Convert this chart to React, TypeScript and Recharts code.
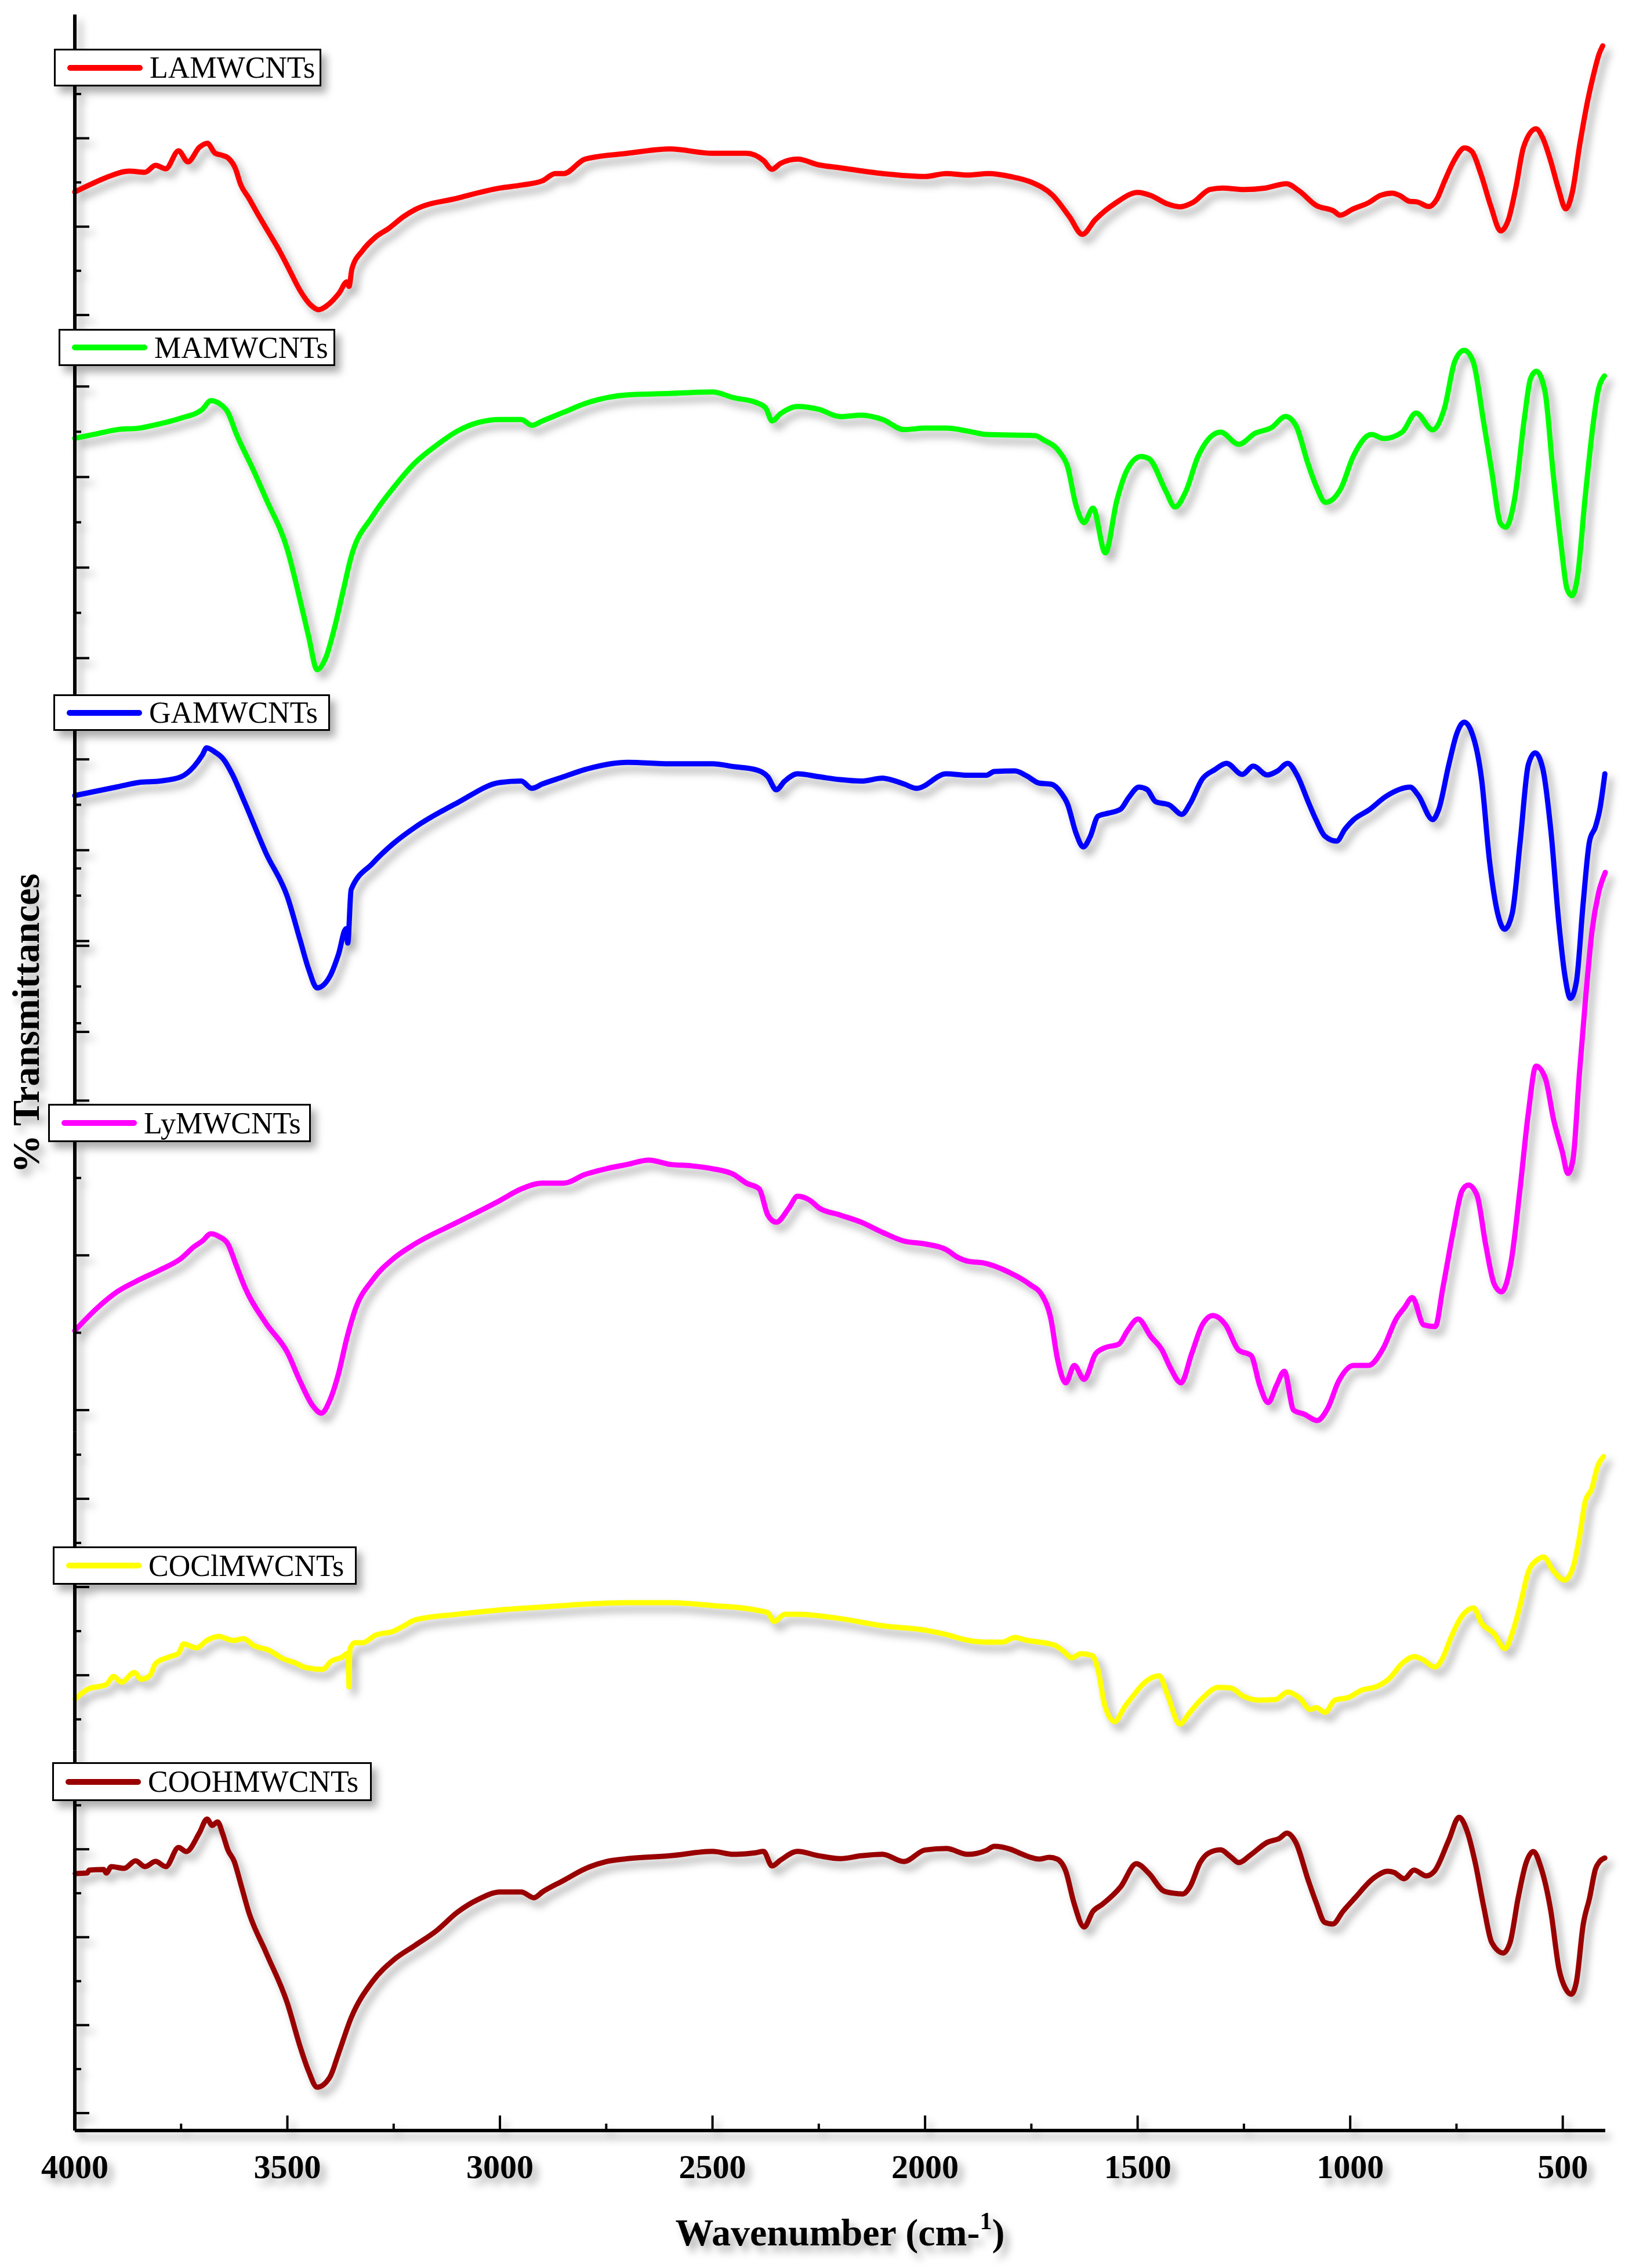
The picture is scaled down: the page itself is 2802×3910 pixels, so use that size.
import React from "react";
import { LineChart, Line, XAxis, YAxis } from "recharts";

const W = 2802;
const H = 3910;
const SY = 3910 / 1568; // px per transmittance unit
const PLOT_LEFT = 129;
const PLOT_RIGHT = 34;
const Y_AXIS_W = 1;
const X_AXIS_H = 120;
const FONT = '"Liberation Serif", "Times New Roman", serif';

const X_TICKS = [4000, 3750, 3500, 3250, 3000, 2750, 2500, 2250, 2000, 1750, 1500, 1250, 1000, 750, 500];

// [wavenumber, %T (arbitrary, offset per spectrum)]
const LA: [number, number][] = [
  [4000, 92.3], [3963, 97.5], [3926, 102.3], [3872, 106.7], [3835, 105.9], [3810, 110.7], [3786, 108.3],
  [3756, 120.7], [3734, 113.1], [3707, 123.1], [3688, 125.9], [3670, 119.1], [3652, 117.5], [3640, 115.9],
  [3622, 108.3], [3610, 97.5], [3591, 88.2], [3568, 76.2], [3543, 63.8], [3519, 51.8], [3494, 37.7],
  [3470, 24.1], [3445, 14.1], [3427, 10.9], [3402, 14.9], [3378, 22.5], [3360, 30.1], [3355, 27],
  [3348, 39.3], [3323, 51.8], [3293, 61], [3262, 67], [3226, 75.4], [3200, 80], [3100, 88], [3000, 95],
  [2950, 97], [2900, 100], [2870, 105], [2850, 105], [2800, 115], [2700, 119], [2600, 122], [2500, 119],
  [2420, 119], [2380, 114], [2360, 108], [2340, 112], [2300, 115], [2250, 111], [2200, 109], [2100, 105],
  [2000, 103], [1950, 105], [1900, 104], [1850, 105], [1800, 103], [1750, 99], [1700, 90], [1660, 75],
  [1630, 63], [1600, 73], [1550, 85], [1500, 92], [1470, 90], [1430, 84], [1400, 82], [1370, 85],
  [1330, 94], [1300, 95], [1250, 94], [1200, 95], [1150, 98], [1120, 93], [1080, 83], [1038, 79],
  [1024, 76.2], [993, 80.6], [956, 85], [929, 89.9], [901, 91.5], [884, 89.9], [860, 85.8], [843, 85.4],
  [815, 82.2], [796, 87.4], [779, 99.1], [755, 114.3], [731, 122.7], [714, 120.3], [693, 105.1],
  [669, 82.2], [646, 65.4], [628, 73], [611, 94.3], [592, 123.5], [563, 136], [547, 129.6], [529, 114.3],
  [510, 94.3], [493, 80.6], [478, 91.5], [460, 125.1], [441, 156], [428, 172.9], [414, 188.1], [406, 193.3],
];

const MA: [number, number][] = [
  [4000, 178], [3950, 181], [3900, 184], [3850, 185], [3800, 188], [3750, 192], [3700, 198], [3680, 204],
  [3660, 202], [3640, 196], [3620, 181], [3580, 156], [3550, 136], [3500, 101], [3470, 66], [3450, 41],
  [3430, 18], [3410, 26], [3390, 46], [3370, 71], [3350, 96], [3300, 124], [3250, 144], [3200, 161],
  [3150, 173], [3100, 183], [3050, 189], [3000, 191], [2950, 191], [2925, 187], [2900, 190], [2850, 196],
  [2800, 202], [2700, 208], [2600, 209], [2500, 210], [2450, 206], [2400, 203], [2375, 199], [2360, 190],
  [2340, 195], [2300, 200], [2250, 198], [2200, 193], [2150, 194], [2100, 191], [2050, 184], [2000, 185],
  [1950, 185], [1900, 183], [1856, 180.6], [1741, 179.8], [1722, 177], [1684, 168.6], [1665, 158.6],
  [1645, 131.7], [1626, 119.7], [1605, 129.7], [1576, 98.8], [1549, 134.9], [1526, 155.4], [1492, 165.4],
  [1473, 163.8], [1434, 141.7], [1412, 130.5], [1386, 141.7], [1358, 165.4], [1305, 182.2], [1262, 173.8],
  [1224, 181.4], [1185, 185.4], [1152, 193.1], [1128, 187], [1099, 160.2], [1080, 144.9], [1058, 133.7],
  [1022, 143.3], [993, 165.4], [950, 180.6], [921, 177.8], [878, 182.2], [845, 195.5], [806, 183.8],
  [778, 199.1], [754, 231.2], [732, 238.8], [711, 231.2], [686, 189], [667, 155], [646, 118.9], [634, 116.5],
  [614, 134.9], [590, 192.3], [576, 219.1], [562, 224.3], [542, 210.7], [523, 155], [504, 104.4], [490, 74],
  [478, 69.2], [466, 80.8], [447, 138.1], [428, 189], [418, 209.1], [402, 221.1],
];

const GA: [number, number][] = [
  [4000, 204], [3950, 207], [3900, 210], [3850, 213], [3800, 214], [3750, 217], [3720, 224], [3700, 232],
  [3690, 237], [3670, 234], [3650, 229], [3630, 219], [3600, 199], [3550, 164], [3500, 134], [3470, 104],
  [3450, 84], [3430, 71], [3400, 79], [3380, 94], [3362, 112], [3358, 102], [3350, 139], [3300, 157],
  [3250, 171], [3200, 182], [3100, 199], [3000, 213], [2950, 214], [2925, 209], [2900, 212], [2850, 217],
  [2800, 222], [2700, 227], [2600, 226], [2500, 226], [2450, 224], [2400, 222], [2370, 217], [2350, 208],
  [2330, 214], [2300, 219], [2250, 217], [2200, 215], [2150, 214], [2100, 216], [2050, 212], [2020, 209],
  [1950, 219], [1900, 218], [1856, 218], [1837, 220.6], [1789, 221], [1760, 217.4], [1732, 212.6],
  [1703, 211.8], [1679, 205.4], [1665, 198.2], [1645, 178.1], [1628, 168.5], [1612, 175.3], [1593, 189.8],
  [1569, 191.8], [1540, 194.6], [1521, 202.6], [1497, 209.8], [1478, 208.2], [1458, 199.8], [1425, 197.4],
  [1396, 191], [1377, 198.2], [1348, 215.4], [1319, 221.8], [1291, 226.3], [1254, 218.6], [1228, 224.3],
  [1195, 218.2], [1171, 221], [1147, 226.3], [1123, 217], [1099, 199.8], [1080, 187], [1060, 176.1],
  [1032, 172.5], [1012, 180.9], [993, 187], [955, 194.2], [916, 203.4], [859, 209.8], [840, 204.2],
  [806, 187.4], [792, 194.2], [768, 225.4], [749, 247.1], [732, 254.7], [715, 248.3], [691, 215.4],
  [672, 158.1], [653, 122.4], [637, 111.6], [619, 122.4], [600, 172.5], [581, 225.4], [565, 233.5],
  [547, 222.6], [528, 179.7], [509, 115.2], [495, 79.5], [482, 63.8], [468, 75.1], [452, 129.6],
  [437, 172.5], [423, 182.5], [413, 194.2], [401, 219],
];

const LY: [number, number][] = [
  [4000, 70], [3950, 85], [3900, 97], [3850, 105], [3800, 112], [3750, 120], [3720, 128], [3700, 132],
  [3680, 137], [3660, 135], [3640, 130], [3620, 115], [3600, 100], [3550, 75], [3500, 55], [3470, 35],
  [3440, 18], [3420, 13], [3400, 22], [3380, 40], [3360, 65], [3340, 85], [3300, 105], [3250, 120],
  [3200, 130], [3100, 145], [3000, 160], [2950, 168], [2900, 172], [2850, 172], [2800, 178], [2750, 182],
  [2700, 185], [2650, 188], [2600, 185], [2550, 184], [2500, 182], [2450, 178], [2420, 172], [2390, 168],
  [2370, 150], [2350, 145], [2320, 155], [2300, 163], [2270, 160], [2250, 155], [2200, 150], [2150, 145],
  [2100, 138], [2050, 132], [2000, 130], [1950, 126], [1925, 121], [1895, 117.8], [1865, 117],
  [1804, 110.6], [1754, 102.1], [1724, 94.1], [1704, 78.1], [1689, 51.2], [1669, 34], [1649, 46],
  [1626, 36.4], [1599, 54], [1579, 58], [1544, 60.8], [1524, 70], [1499, 78.1], [1469, 66], [1443, 56.8],
  [1423, 44.4], [1398, 34], [1373, 54], [1348, 74], [1323, 80.5], [1293, 74], [1263, 56.8], [1233, 52.8],
  [1213, 32.4], [1193, 20.3], [1173, 32.4], [1155, 42], [1133, 15.1], [1108, 12.3], [1078, 7.9],
  [1053, 16.3], [1027, 35.2], [992, 46], [957, 46], [922, 58], [892, 78.1], [872, 86.1], [854, 92.9],
  [827, 74], [800, 72.9], [782, 99.7], [757, 139.8], [737, 166.7], [722, 170.7], [702, 163.9], [681, 129],
  [661, 102.1], [644, 96.9], [621, 118.6], [601, 166.7], [581, 220.4], [563, 252.9], [541, 244.5],
  [521, 215.2], [501, 193.6], [488, 178.7], [476, 188.3], [461, 247.3], [446, 301], [431, 346.8],
  [416, 372.4], [400, 386.9],
];

const CL: [number, number][] = [
  [3999, 35.4], [3969, 42.2], [3926, 45.4], [3909, 51], [3890, 47], [3860, 53.8], [3844, 49], [3823, 51.8],
  [3810, 59.9], [3780, 64.3], [3756, 67.1], [3744, 73.5], [3714, 70.7], [3689, 75.9], [3662, 78.7],
  [3628, 75.9], [3603, 77.1], [3579, 72.3], [3543, 69.1], [3512, 63.5], [3481, 60.3], [3457, 57.1],
  [3417, 55.9], [3397, 61.5], [3372, 64.3], [3357, 67.1], [3355, 43.8], [3353, 70], [3341, 74.3],
  [3323, 74.3], [3293, 79.5], [3250, 82.3], [3226, 85.9], [3200, 90], [3100, 94], [3000, 97], [2900, 99],
  [2800, 101], [2700, 102], [2600, 102], [2500, 100], [2400, 97], [2370, 95], [2355, 89], [2330, 94],
  [2300, 94], [2200, 91], [2100, 86], [2000, 83], [1950, 80], [1900, 76], [1856, 74.7], [1818, 74.7],
  [1789, 77.9], [1760, 75.9], [1713, 73.9], [1693, 72.3], [1674, 68.3], [1655, 63.9], [1634, 66.7],
  [1607, 65.5], [1593, 55.5], [1578, 31.8], [1554, 19.8], [1530, 30.2], [1511, 37.4], [1487, 45.8],
  [1449, 51.4], [1430, 38.6], [1401, 18.1], [1377, 26.2], [1348, 35.8], [1310, 43.4], [1281, 43],
  [1252, 37.4], [1214, 34.6], [1176, 35], [1147, 40.2], [1118, 35.8], [1094, 28.2], [1080, 29.4],
  [1059, 26.2], [1036, 34.6], [1003, 36.6], [974, 41.4], [936, 44.2], [907, 49.8], [878, 59.9], [849, 64.7],
  [830, 62.7], [801, 57.5], [782, 63.9], [763, 77.9], [739, 91.9], [710, 98.4], [691, 87.9], [662, 80.7],
  [636, 70.3], [619, 80.7], [600, 100.4], [581, 123.2], [560, 131.6], [545, 133.6], [523, 124.4],
  [496, 117.6], [475, 127.2], [461, 146.9], [447, 172.1], [432, 180.6], [418, 196.2], [404, 203],
];

const OH: [number, number][] = [
  [3999, 177.7], [3971, 178.1], [3966, 180.1], [3932, 180.5], [3926, 178.1], [3914, 182.5], [3884, 181.3],
  [3857, 186.5], [3835, 182.5], [3810, 186.1], [3786, 182.5], [3756, 195.7], [3738, 192.9], [3707, 205.8],
  [3689, 215.4], [3677, 211], [3664, 213.4], [3652, 205], [3640, 194.1], [3625, 186.1], [3610, 170.9],
  [3591, 151.2], [3550, 123], [3500, 88], [3470, 58], [3450, 41], [3430, 30], [3400, 37], [3380, 53],
  [3350, 78], [3300, 103], [3250, 118], [3200, 128], [3150, 138], [3100, 151], [3050, 160], [3000, 165],
  [2950, 165], [2920, 161], [2900, 165], [2850, 173], [2800, 181], [2750, 186], [2700, 188], [2600, 190],
  [2500, 193], [2450, 191], [2400, 192], [2380, 193], [2360, 183], [2340, 187], [2300, 193], [2250, 190],
  [2200, 188], [2150, 190], [2100, 191], [2050, 186], [2000, 194], [1950, 195], [1900, 191], [1856, 193.7],
  [1837, 196.5], [1799, 194.5], [1770, 190.9], [1732, 187.7], [1708, 188.9], [1689, 187.7], [1669, 179.3],
  [1650, 157.6], [1626, 140.8], [1605, 151.6], [1583, 156.4], [1540, 168.5], [1503, 184.5], [1473, 177.7],
  [1439, 165.7], [1415, 164.1], [1394, 163.6], [1377, 168.5], [1353, 185.3], [1334, 191.7], [1305, 194.1],
  [1281, 189.3], [1262, 185.3], [1233, 190.9], [1195, 199.3], [1166, 202.1], [1149, 205.7], [1128, 199.3],
  [1099, 173.3], [1080, 157.6], [1060, 144], [1041, 142.8], [1017, 151.6], [989, 160.8], [945, 174.5],
  [912, 179.3], [897, 178.5], [873, 174.1], [850, 180.1], [821, 176.1], [802, 179.3], [768, 200.9],
  [744, 216.6], [725, 207], [706, 185.3], [686, 154.8], [667, 130], [640, 122.8], [624, 130], [605, 160.8],
  [586, 185.3], [569, 192.9], [552, 182.5], [528, 151.6], [509, 111.9], [493, 97.9], [480, 94.3],
  [468, 102.7], [452, 142.4], [437, 160.8], [423, 180.9], [413, 186.1], [401, 188.5],
];

// y-axis tick values per spectrum (long ticks listed separately)
const LA_TICKS = [7.2, 37.8, 68.3, 98.9, 129.4, 160];
const LA_MAJOR = [7.2, 68.3, 129.4];
const MA_TICKS = [26, 57.3, 88.6, 119.9, 151.2, 182.5, 213.8];
const MA_MAJOR = [26, 88.6, 151.2, 213.8];
const GA_TICKS = [40.6, 72, 103.4, 134.8, 166.2, 197.6, 229];
const GA_MAJOR = [40.6, 103.4, 166.2, 229];
const LY_TICKS = [15.1, 68.6, 122.1, 175.6, 229.1, 282.6, 336.1, 389.6];
const LY_MAJOR = [15.1, 122.1, 229.1, 336.1];
const CL_TICKS = [21.3, 51.8, 82.3, 112.8, 143.3, 173.8, 204.3];
const CL_MAJOR = [51.8, 112.8, 173.8];
const OH_TICKS = [12.1, 42.5, 72.9, 103.3, 133.7, 164.1, 194.5, 224.9];
const OH_MAJOR = [12.1, 72.9, 133.7, 194.5];

// vertical band of each stacked panel (in transmittance units from the top of the figure)
const PANELS = [
  { name: "LAMWCNTs", color: "#ff0000", data: LA, ticks: LA_TICKS, major: LA_MAJOR, top: 10, bottom: 228, lo: -3 },
  { name: "MAMWCNTs", color: "#00ff00", data: MA, ticks: MA_TICKS, major: MA_MAJOR, top: 228, bottom: 481, lo: 0 },
  { name: "GAMWCNTs", color: "#0000ff", data: GA, ticks: GA_TICKS, major: GA_MAJOR, top: 481, bottom: 754, lo: 0 },
  { name: "LyMWCNTs", color: "#ff00ff", data: LY, ticks: LY_TICKS, major: LY_MAJOR, top: 580, bottom: 990, lo: 0 },
  { name: "COClMWCNTs", color: "#ffff00", data: CL, ticks: CL_TICKS, major: CL_MAJOR, top: 990, bottom: 1210, lo: 0 },
  { name: "COOHMWCNTs", color: "#990000", data: OH, ticks: OH_TICKS, major: OH_MAJOR, top: 1210, bottom: 1473, lo: 0 },
];

const LEGEND_BOXES = [
  { left: 93, top: 84, width: 461, height: 65 },
  { left: 101, top: 567, width: 477, height: 64 },
  { left: 92, top: 1197, width: 477, height: 63 },
  { left: 83, top: 1903, width: 453, height: 66 },
  { left: 91, top: 2666, width: 524, height: 66 },
  { left: 90, top: 3038, width: 551, height: 67 },
];

const XTick = (props: any) => {
  const { x, y, payload } = props;
  const major = payload.value % 500 === 0;
  return (
    <g>
      <line x1={x} x2={x} y1={y} y2={y - (major ? 26 : 12)} stroke="#000" strokeWidth={4} />
      {major && (
        <text x={x} y={y + 82} textAnchor="middle" fontFamily={FONT} fontWeight="bold" fontSize={58} fill="#000">
          {payload.value}
        </text>
      )}
    </g>
  );
};

const YTick = (props: any) => {
  const { y, payload, major } = props;
  const len = major.includes(payload.value) ? 25 : 11;
  return <line x1={PLOT_LEFT} x2={PLOT_LEFT + len} y1={y} y2={y} stroke="#000" strokeWidth={4} />;
};

const AxisTitle = (props: any) => {
  const vb = props.viewBox;
  const cx = vb ? vb.x + vb.width / 2 : 1448;
  const cy = vb ? vb.y + 198 : 3870;
  return (
    <text x={cx} y={cy} textAnchor="middle" fontFamily={FONT} fontWeight="bold" fontSize={66} fill="#000">
      Wavenumber (cm-
      <tspan dy={-28} fontSize={42}>1</tspan>
      <tspan dy={28}>)</tspan>
    </text>
  );
};

function Panel({ p, last }: { p: (typeof PANELS)[number]; last: boolean }) {
  const data = p.data.map(([wn, t]) => ({ wn, t }));
  const xh = last ? X_AXIS_H : 0;
  return (
    <div style={{ position: "absolute", left: 0, top: 0 }}>
      <LineChart
        width={W}
        height={H}
        data={data}
        margin={{
          top: p.top * SY,
          bottom: H - p.bottom * SY - xh,
          left: PLOT_LEFT - Y_AXIS_W,
          right: PLOT_RIGHT,
        }}
      >
        <XAxis
          type="number"
          dataKey="wn"
          domain={[400, 4000]}
          reversed
          hide={!last}
          height={xh}
          ticks={X_TICKS}
          interval={0}
          tickSize={0}
          tickMargin={0}
          tickLine={false}
          axisLine={{ stroke: "#000", strokeWidth: 6 }}
          tick={XTick}
          label={<AxisTitle />}
        />
        <YAxis
          type="number"
          domain={[p.lo, p.lo + p.bottom - p.top]}
          ticks={p.ticks}
          interval={0}
          width={Y_AXIS_W}
          tickSize={0}
          tickMargin={0}
          tickLine={false}
          axisLine={{ stroke: "#000", strokeWidth: 6 }}
          tick={(tp: any) => <YTick {...tp} major={p.major} />}
        />
        <Line
          type="monotone"
          dataKey="t"
          stroke={p.color}
          strokeWidth={9}
          strokeLinejoin="round"
          strokeLinecap="round"
          dot={false}
          isAnimationActive={false}
        />
      </LineChart>
    </div>
  );
}

export default function App() {
  return (
    <div style={{ position: "absolute", left: 0, top: 0, width: W, height: H, background: "#fff" }}>
      <div
        style={{
          position: "absolute",
          left: 0,
          top: 0,
          width: W,
          height: H,
          filter: "drop-shadow(9px 11px 7px rgba(0,0,0,0.32))",
        }}
      >
        {PANELS.map((p, i) => (
          <Panel key={p.name} p={p} last={i === PANELS.length - 1} />
        ))}
        <svg width={W} height={H} style={{ position: "absolute", left: 0, top: 0 }}>
          <text
            transform="translate(67,1764) rotate(-90)"
            textAnchor="middle"
            fontFamily={FONT}
            fontWeight="bold"
            fontSize={66}
            fill="#000"
          >
            % Transmittances
          </text>
        </svg>
        {PANELS.map((p, i) => {
          const b = LEGEND_BOXES[i];
          return (
            <div
              key={"lg" + p.name}
              style={{
                position: "absolute",
                left: b.left,
                top: b.top,
                width: b.width,
                height: b.height,
                boxSizing: "border-box",
                border: "3px solid #000",
                background: "#fff",
                display: "flex",
                alignItems: "center",
                paddingLeft: 20,
                fontFamily: FONT,
                fontSize: 52,
                color: "#000",
                whiteSpace: "nowrap",
              }}
            >
              <span
                style={{
                  display: "block",
                  flexShrink: 0,
                  width: 130,
                  height: 10,
                  borderRadius: 5,
                  background: p.color,
                  marginRight: 12,
                }}
              />
              {p.name}
            </div>
          );
        })}
      </div>
    </div>
  );
}
